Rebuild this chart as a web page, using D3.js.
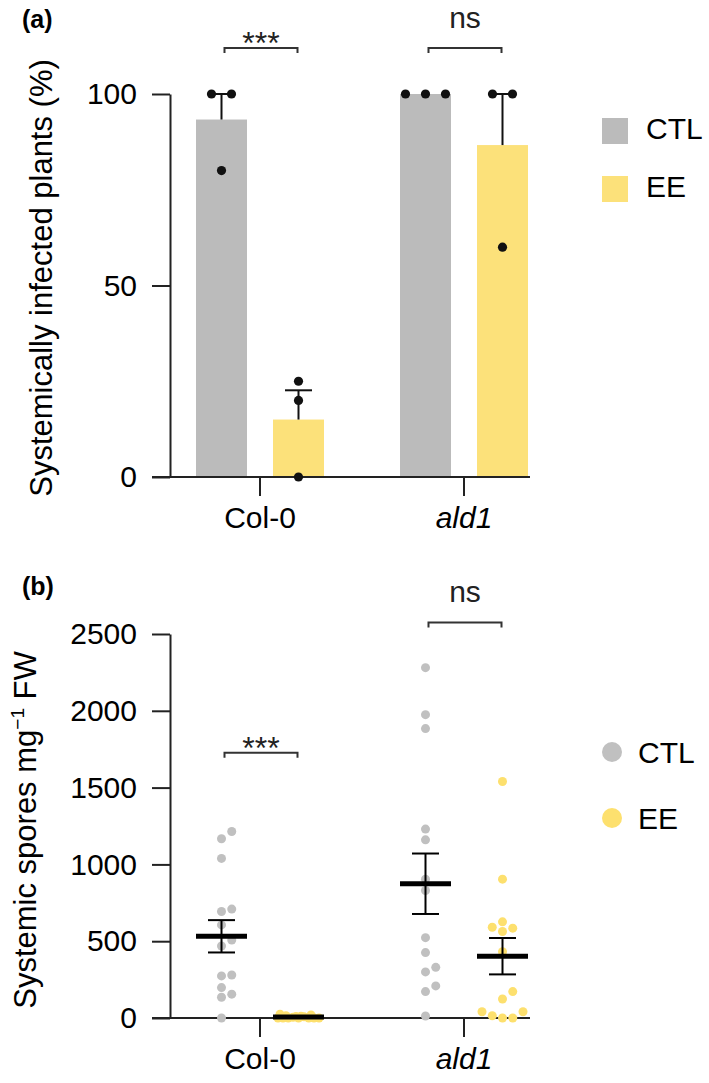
<!DOCTYPE html>
<html><head><meta charset="utf-8">
<script src="https://cdn.jsdelivr.net/npm/d3@7"></script>
<style>
body{margin:0;background:#fff;}
svg{display:block;font-family:"Liberation Sans",Arial,Helvetica,sans-serif;}
</style></head><body>
<svg id="chart" width="709" height="1083"></svg>
<script>
// ---------- data ----------
const groups = ["Col-0", "ald1"];
const series = ["CTL", "EE"];
// Panel (a): systemically infected plants (%), one value per replicate
const infectedCol0CTL = [100, 100, 80];
const infectedCol0EE  = [25, 20, 0];
const infectedAld1CTL = [100, 100, 100];
const infectedAld1EE  = [100, 100, 60];
// Panel (b): systemic spores per mg FW, one value per plant
const sporesCol0CTL = [1214, 1167, 1039, 709, 693, 606, 508, 469, 280, 274, 198, 155, 135, 0];
const sporesCol0EE  = [25, 20, 15, 12, 10, 8, 5, 0, 0, 0, 0, 0, 0, 0];
const sporesAld1CTL = [2281, 1975, 1884, 1230, 1160, 904, 830, 523, 426, 330, 300, 209, 172, 13];
const sporesAld1EE  = [1540, 904, 626, 591, 585, 563, 432, 172, 124, 41, 41, 15, 0, 0];
const ticksA = [0, 50, 100];
const ticksB = [0, 500, 1000, 1500, 2000, 2500];
const sigLabelsA = ["***", "ns"];
const sigLevelsA = [112, 112];
const sigLabelsB = ["***", "ns"];
const sigLevelsB = [1727, 2575];

const tableA = [
  {group: "Col-0", series: "CTL", values: infectedCol0CTL},
  {group: "Col-0", series: "EE",  values: infectedCol0EE},
  {group: "ald1",  series: "CTL", values: infectedAld1CTL},
  {group: "ald1",  series: "EE",  values: infectedAld1EE}
];
const tableB = [
  {group: "Col-0", series: "CTL", values: sporesCol0CTL},
  {group: "Col-0", series: "EE",  values: sporesCol0EE},
  {group: "ald1",  series: "CTL", values: sporesAld1CTL},
  {group: "ald1",  series: "EE",  values: sporesAld1EE}
];
tableA.concat(tableB).forEach(d => {
  d.mean = d3.mean(d.values);
  d.sem = d3.deviation(d.values) / Math.sqrt(d.values.length);
});

// ---------- styles ----------
const barColor = {CTL: "#bbbbbb", EE: "#fce17a"};
const dotColor = {CTL: "#c0c0c0", EE: "#fde06e"};
const axisColor = "#222";
const FS = 30;

const svg = d3.select("#chart");

// ---------- scales ----------
const x0 = d3.scaleBand().domain(groups).range([158, 566]).paddingInner(0).paddingOuter(0);
const x1 = d3.scaleBand().domain(series).range([0, x0.bandwidth()]).paddingInner(0.3377).paddingOuter(0.4935);
const cx = d => x0(d.group) + x1(d.series) + x1.bandwidth() / 2;
const yA = d3.scaleLinear().domain([0, 100]).range([477, 94]);
const yB = d3.scaleLinear().domain([0, 2500]).range([1018, 634]);
const axisLeftX = 170, axisStartX = 152, axisEndX = 530;

function drawAxes(g, y, ticks, x0y) {
  const ya = g.append("g").attr("transform", `translate(${axisLeftX},0)`)
    .call(d3.axisLeft(y).tickValues(ticks).tickSize(18).tickSizeOuter(0).tickPadding(15).tickFormat(d3.format("d")));
  ya.select(".domain").attr("stroke", axisColor).attr("stroke-width", 2);
  ya.selectAll(".tick line").attr("stroke", axisColor).attr("stroke-width", 2);
  ya.selectAll(".tick text").attr("font-size", FS).attr("fill", "#000").attr("font-family", null);
  // x axis
  const xa = g.append("g").attr("transform", `translate(0,${y(0)})`)
    .call(d3.axisBottom(x0).tickSize(19).tickSizeOuter(0).tickPadding(11));
  xa.select(".domain").remove();
  xa.append("line").attr("x1", axisStartX).attr("x2", axisEndX).attr("y1", 0).attr("y2", 0)
    .attr("stroke", axisColor).attr("stroke-width", 2);
  xa.selectAll(".tick line").attr("stroke", axisColor).attr("stroke-width", 2);
  xa.selectAll(".tick text").attr("font-size", FS).attr("fill", "#000").attr("font-family", null)
    .attr("font-style", d => d === "ald1" ? "italic" : "normal");
}

function drawSig(g, y, labels, levels, starOffset, nsOffset) {
  groups.forEach((grp, i) => {
    const xa = x0(grp) + x1("CTL") + x1.bandwidth() / 2 + 3;
    const xb = x0(grp) + x1("EE") + x1.bandwidth() / 2 - 1;
    const yy = y(levels[i]);
    g.append("path").attr("d", `M${xa},${yy + 5}V${yy}H${xb}V${yy + 5}`)
      .attr("fill", "none").attr("stroke", "#333").attr("stroke-width", 2);
    const isStar = labels[i].startsWith("*");
    g.append("text").attr("x", (xa + xb) / 2).attr("y", isStar ? yy + starOffset : yy + nsOffset)
      .attr("text-anchor", "middle").attr("font-size", isStar ? 32 : FS).attr("fill", "#222")
      .text(labels[i]);
  });
}

// ================= Panel (a) =================
const gA = svg.append("g");
gA.append("text").attr("x", 22).attr("y", 28).attr("font-size", 25).attr("font-weight", "bold").text("(a)");
gA.append("text").attr("transform", `translate(52,278) rotate(-90)`).attr("text-anchor", "middle")
  .attr("font-size", 31).text("Systemically infected plants (%)");

gA.selectAll("rect.bar").data(tableA).join("rect").attr("class", "bar")
  .attr("x", d => x0(d.group) + x1(d.series)).attr("width", x1.bandwidth())
  .attr("y", d => yA(d.mean)).attr("height", d => yA(0) - yA(d.mean))
  .attr("fill", d => barColor[d.series]);

drawAxes(gA, yA, ticksA);

// error bars (upper only)
tableA.filter(d => d.sem > 0).forEach(d => {
  const x = cx(d);
  gA.append("line").attr("x1", x).attr("x2", x).attr("y1", yA(d.mean)).attr("y2", yA(d.mean + d.sem))
    .attr("stroke", "#111").attr("stroke-width", 2);
  gA.append("line").attr("x1", x - 13.5).attr("x2", x + 13.5).attr("y1", yA(d.mean + d.sem)).attr("y2", yA(d.mean + d.sem))
    .attr("stroke", "#111").attr("stroke-width", 2);
});

// replicate dots: ties spread symmetrically
tableA.forEach(d => {
  const counts = d3.rollup(d.values, v => v.length, v => v);
  const seen = new Map();
  const pts = d.values.map(v => {
    const n = counts.get(v), i = seen.get(v) || 0; seen.set(v, i + 1);
    return {v, x: cx(d) + (i - (n - 1) / 2) * 20};
  });
  gA.selectAll(null).data(pts).join("circle")
    .attr("cx", p => p.x).attr("cy", p => yA(p.v)).attr("r", 4.6).attr("fill", "#111");
});

drawSig(gA, yA, sigLabelsA, sigLevelsA, 6, -20);

// legend (a)
series.forEach((s, i) => {
  const yy = 118 + i * 58;
  gA.append("rect").attr("x", 602).attr("y", yy).attr("width", 26).attr("height", 26).attr("fill", barColor[s]);
  gA.append("text").attr("x", 646).attr("y", yy + 21).attr("font-size", FS).text(s);
});

// ================= Panel (b) =================
const gB = svg.append("g");
gB.append("text").attr("x", 22).attr("y", 595).attr("font-size", 25).attr("font-weight", "bold").text("(b)");
const tB = gB.append("text").attr("transform", `translate(36,830) rotate(-90)`).attr("text-anchor", "middle")
  .attr("font-size", 31);
tB.append("tspan").text("Systemic spores mg");
tB.append("tspan").attr("font-size", 19).attr("dy", -12).text("\u22121");
tB.append("tspan").attr("dy", 12).text(" FW");

drawAxes(gB, yB, ticksB);

// beeswarm layout computed in pixel space
function swarm(values, centerX, y, step, D, maxOff) {
  const pts = values.map(v => ({v, y: y(v)})).sort((a, b) => a.v - b.v);
  const placed = [];
  const cands = [0];
  for (let k = 1; k <= 8; k++) cands.push(k * step, -k * step);
  pts.forEach(p => {
    let found = null;
    for (const c of cands) {
      if (Math.abs(c) > maxOff + 0.01) continue;
      if (placed.every(q => Math.hypot(q.dx - c, q.y - p.y) >= D)) { found = c; break; }
    }
    if (found === null) {
      let best = 0, bestD = -1;
      for (let c = -maxOff; c <= maxOff + 0.01; c += 1) {
        const md = d3.min(placed, q => Math.hypot(q.dx - c, q.y - p.y));
        if (md > bestD) { bestD = md; best = c; }
      }
      found = best;
    }
    p.dx = found;
    placed.push(p);
  });
  return placed.map(p => ({v: p.v, x: centerX + p.dx, y: p.y}));
}

tableB.forEach(d => {
  const pts = swarm(d.values, cx(d), yB, 10.25, 9.2, 20.5);
  gB.selectAll(null).data(pts).join("circle")
    .attr("cx", p => p.x).attr("cy", p => p.y).attr("r", 4.5).attr("fill", dotColor[d.series]);
});

// mean and SEM
tableB.forEach(d => {
  const x = cx(d), w = x1.bandwidth();
  gB.append("line").attr("x1", x).attr("x2", x).attr("y1", yB(d.mean - d.sem)).attr("y2", yB(d.mean + d.sem))
    .attr("stroke", "#000").attr("stroke-width", 2);
  [d.mean - d.sem, d.mean + d.sem].forEach(v => {
    gB.append("line").attr("x1", x - 13.5).attr("x2", x + 13.5).attr("y1", yB(v)).attr("y2", yB(v))
      .attr("stroke", "#000").attr("stroke-width", 2);
  });
  gB.append("line").attr("x1", x - w / 2).attr("x2", x + w / 2).attr("y1", yB(d.mean)).attr("y2", yB(d.mean))
    .attr("stroke", "#000").attr("stroke-width", 5);
});

drawSig(gB, yB, sigLabelsB, sigLevelsB, 6, -20);

// legend (b)
series.forEach((s, i) => {
  const yy = 752 + i * 66;
  gB.append("circle").attr("cx", 612).attr("cy", yy).attr("r", 10).attr("fill", dotColor[s]);
  gB.append("text").attr("x", 638).attr("y", yy + 11).attr("font-size", FS).text(s);
});
</script>
</body></html>
